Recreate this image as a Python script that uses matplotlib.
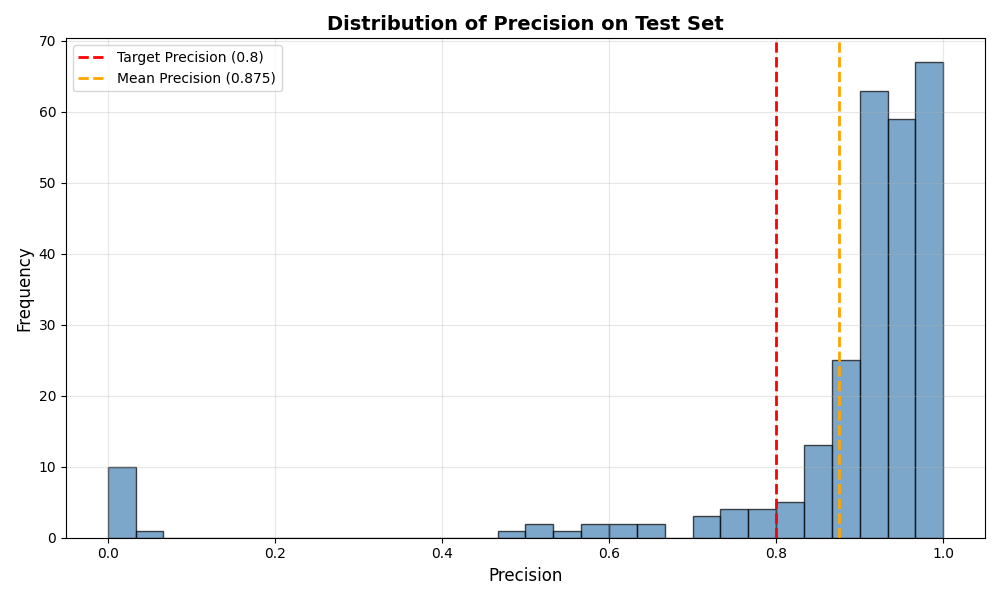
import numpy as np
import matplotlib
matplotlib.use("Agg")
import matplotlib.pyplot as plt

# histogram counts (30 bins over 0..1)
bin_edges = np.linspace(0, 1, 31)
counts = [10, 1, 0, 0, 0, 0, 0, 0, 0, 0,
          0, 0, 0, 0, 1, 2, 1, 2, 2, 2,
          0, 3, 4, 4, 5, 13, 25, 63, 59, 67]
target_precision = 0.8
mean_precision = 0.875

fig, ax = plt.subplots(figsize=(10, 6), dpi=100)

ax.hist(bin_edges[:-1], bins=bin_edges, weights=counts,
        color='steelblue', alpha=0.7, edgecolor='black')

ax.axvline(target_precision, color='red', linestyle='--', linewidth=2,
           label=f'Target Precision ({target_precision})')
ax.axvline(mean_precision, color='orange', linestyle='--', linewidth=2,
           label=f'Mean Precision ({mean_precision})')

ax.set_xlabel('Precision', fontsize=12)
ax.set_ylabel('Frequency', fontsize=12)
ax.set_title('Distribution of Precision on Test Set', fontsize=14, fontweight='bold')
ax.legend(loc='upper left')
ax.grid(True, alpha=0.3)

plt.tight_layout()
plt.savefig('out.png')
